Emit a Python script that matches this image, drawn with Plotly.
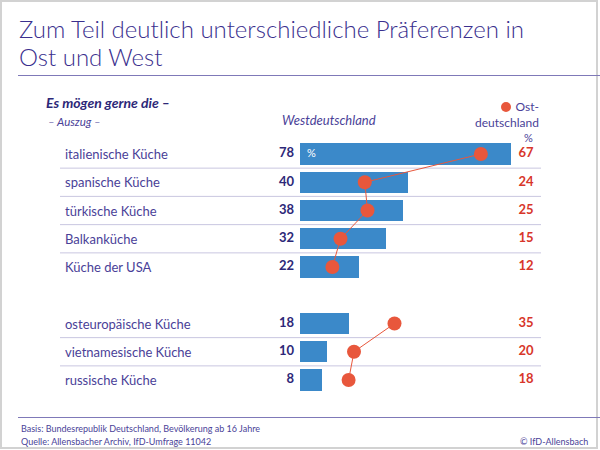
import plotly.graph_objects as go

# ---- data ----
categories_a = ["italienische Küche", "spanische Küche", "türkische Küche", "Balkanküche", "Küche der USA"]
west_a = [78, 40, 38, 32, 22]
east_a = [67, 24, 25, 15, 12]

categories_b = ["osteuropäische Küche", "vietnamesische Küche", "russische Küche"]
west_b = [18, 10, 8]
east_b = [35, 20, 18]

title_lines = ["Zum Teil deutlich unterschiedliche Präferenzen in", "Ost und West"]
question = "Es mögen gerne die –"
subnote = "– Auszug –"
west_label = "Westdeutschland"
east_label = ["Ost-", "deutschland", "%"]
footer_basis = "Basis: Bundesrepublik Deutschland, Bevölkerung ab 16 Jahre"
footer_source = "Quelle: Allensbacher Archiv, IfD-Umfrage 11042"
copyright_txt = "© IfD-Allensbach"

# ---- layout helpers ----
W, H = 600, 450
FONT = "Lato"
C_TITLE = "#3a2f8e"
C_LABEL = "#4a3f98"
C_NUM = "#2d2878"
C_RED = "#d8362a"
C_DOT = "#e8573c"
C_BAR = "#3b89c9"
C_SEP = "#c9c6e0"

pos_a = list(range(len(categories_a)))
pos_b = [len(categories_a) + 1 + i for i in range(len(categories_b))]

categories = categories_a + categories_b
west = west_a + west_b
east = east_a + east_b
ypos = pos_a + pos_b

px_per_unit = 2.7
x0_px = 300
row0_px, row_step = 154, 28.25


def px_to_x(px):
    return (px - x0_px) / px_per_unit


def py(px):
    return 1 - px / H


fig = go.Figure()

# West bars
fig.add_trace(go.Bar(
    x=west, y=ypos, orientation="h", marker=dict(color=C_BAR, line=dict(width=0)),
    width=0.75, hoverinfo="skip", showlegend=False))

# East dots + connecting lines (two groups)
for pos, vals in ((pos_a, east_a), (pos_b, east_b)):
    fig.add_trace(go.Scatter(
        x=vals, y=pos, mode="lines+markers",
        line=dict(color=C_DOT, width=1),
        marker=dict(color=C_DOT, size=14),
        hoverinfo="skip", showlegend=False, cliponaxis=False))

# West numbers
fig.add_trace(go.Scatter(
    x=[px_to_x(294)] * len(west), y=ypos, mode="text",
    text=[str(v) for v in west], textposition="middle left",
    textfont=dict(family=FONT, size=13, color=C_NUM, weight="bold"),
    hoverinfo="skip", showlegend=False, cliponaxis=False))

# East numbers
fig.add_trace(go.Scatter(
    x=[px_to_x(526)] * len(east), y=ypos, mode="text",
    text=[str(v) for v in east], textposition="middle center",
    textfont=dict(family=FONT, size=13, color=C_RED, weight="bold"),
    hoverinfo="skip", showlegend=False, cliponaxis=False))

# "%" inside first bar
fig.add_trace(go.Scatter(
    x=[px_to_x(307)], y=[ypos[0]], mode="text", text=["%"], textposition="middle right",
    textfont=dict(family=FONT, size=11, color="white"),
    hoverinfo="skip", showlegend=False, cliponaxis=False))

annotations = []
# category labels
for cat, p in zip(categories, ypos):
    annotations.append(dict(
        text=cat, xref="paper", yref="y", x=63 / W, y=p, xanchor="left", yanchor="middle",
        showarrow=False, font=dict(family=FONT, size=13, color=C_LABEL)))

# title
for i, line in enumerate(title_lines):
    annotations.append(dict(
        text=line, xref="paper", yref="paper", x=17 / W, y=py(29 + 27 * i),
        xanchor="left", yanchor="middle", showarrow=False,
        font=dict(family=FONT, size=24, color=C_TITLE, weight=300)))

east_header = (f"{east_label[0]}<br>{east_label[1]}<br>"
               f"<span style='font-size:11px'>{east_label[2]}</span>&nbsp;&nbsp;")

annotations += [
    dict(text=f"<b><i>{question}</i></b>", xref="paper", yref="paper", x=44 / W, y=py(102),
         xanchor="left", yanchor="middle", showarrow=False,
         font=dict(family=FONT, size=14, color=C_NUM)),
    dict(text=f"<i>{subnote}</i>", xref="paper", yref="paper", x=46 / W, y=py(122),
         xanchor="left", yanchor="middle", showarrow=False,
         font=dict(family=FONT, size=11.5, color=C_LABEL)),
    dict(text=f"<i>{west_label}</i>", xref="paper", yref="paper", x=329 / W, y=py(120),
         xanchor="center", yanchor="middle", showarrow=False,
         font=dict(family=FONT, size=13, color=C_LABEL)),
    dict(text=east_header, xref="paper", yref="paper", x=541 / W, y=py(121.5),
         xanchor="right", yanchor="middle", align="right", showarrow=False,
         font=dict(family=FONT, size=12, color=C_LABEL)),
    dict(text=footer_basis, xref="paper", yref="paper", x=19 / W, y=py(428),
         xanchor="left", yanchor="middle", showarrow=False,
         font=dict(family=FONT, size=9, color=C_LABEL)),
    dict(text=footer_source, xref="paper", yref="paper", x=19 / W, y=py(441),
         xanchor="left", yanchor="middle", showarrow=False,
         font=dict(family=FONT, size=9, color=C_LABEL)),
    dict(text=copyright_txt, xref="paper", yref="paper", x=590 / W, y=py(441),
         xanchor="right", yanchor="middle", showarrow=False,
         font=dict(family=FONT, size=9, color=C_LABEL)),
]

shapes = [
    # frame
    dict(type="rect", xref="paper", yref="paper", x0=1 / W, x1=597 / W, y0=py(448), y1=py(1),
         line=dict(color="#d2d2d2", width=2), layer="below"),
    # title rule
    dict(type="line", xref="paper", yref="paper", x0=18 / W, x1=1, y0=py(75.5), y1=py(75.5),
         line=dict(color="#7f79b8", width=1)),
    # footer rule
    dict(type="line", xref="paper", yref="paper", x0=18 / W, x1=1, y0=py(417.5), y1=py(417.5),
         line=dict(color="#7f79b8", width=1)),
    # legend dot
    dict(type="circle", xref="paper", yref="paper", x0=501 / W, x1=511 / W,
         y0=py(112), y1=py(102), fillcolor=C_DOT, line=dict(width=0)),
]
# row separators (between rows within each group)
for grp in (pos_a, pos_b):
    for p in grp[:-1]:
        shapes.append(dict(type="line", xref="paper", yref="y", x0=60 / W, x1=541 / W,
                           y0=p + 0.5, y1=p + 0.5, line=dict(color=C_SEP, width=1), layer="below"))

y_top = (0 - row0_px) / row_step
y_bot = (H - row0_px) / row_step
fig.update_layout(
    width=W, height=H, margin=dict(l=0, r=0, t=0, b=0),
    paper_bgcolor="white", plot_bgcolor="white",
    xaxis=dict(range=[-x0_px / px_per_unit, (W - x0_px) / px_per_unit], visible=False, fixedrange=True),
    yaxis=dict(range=[y_bot, y_top], visible=False, fixedrange=True),
    annotations=annotations, shapes=shapes, bargap=0,
)

fig.write_html("out.html", config={"displayModeBar": False},
               post_script="document.body.style.margin='0';document.body.style.overflow='hidden';")
